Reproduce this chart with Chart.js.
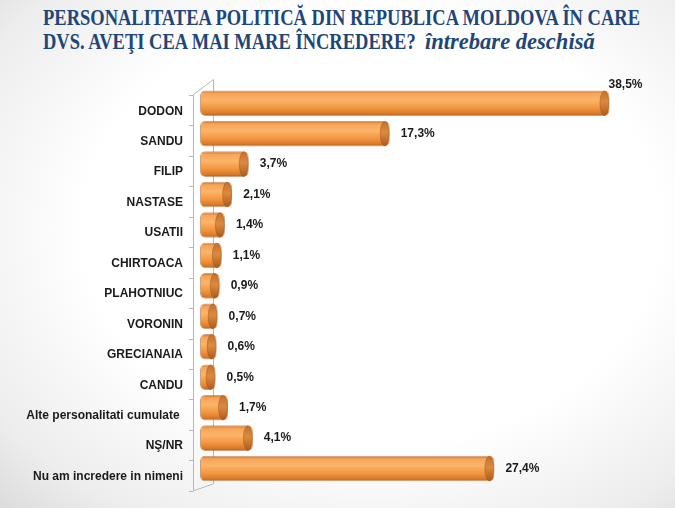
<!DOCTYPE html>
<html>
<head>
<meta charset="utf-8">
<title>Personalitatea politică</title>
<script src="https://cdn.jsdelivr.net/npm/chart.js"></script>
<style>
    html, body { margin: 0; padding: 0; }
    body { width: 675px; height: 508px; overflow: hidden; position: relative;
           background: radial-gradient(ellipse at 55% 45%, #ffffff 55%, #ededed 85%, #dcdcdc 100%); }
    #title { position: absolute; left: 43px; top: 6px; color: #1f4678;
             font-family: "Liberation Serif", "DejaVu Serif", serif;
             font-weight: bold; font-size: 23px; line-height: 24px; white-space: nowrap;
             transform-origin: 0 0; }
    #title i { font-weight: bold; display: inline-block; transform: scaleX(1.22); transform-origin: 0 0; }
    canvas { position: absolute; left: 0; top: 0; }
</style>
</head>
<body>
<div id="title"><span id="l1">PERSONALITATEA POLITICĂ DIN REPUBLICA MOLDOVA ÎN CARE</span><br>DVS. AVEŢI CEA MAI MARE ÎNCREDERE?&nbsp; <i>întrebare deschisă</i></div>
<canvas id="chart" width="675" height="508"></canvas>
<script>
// squeeze the title into a condensed look (no condensed font installed)
const l1 = document.getElementById('l1');
document.getElementById('title').style.transform = 'scaleX(' + (597 / l1.getBoundingClientRect().width) + ')';

// Data
const categories = ['DODON', 'SANDU', 'FILIP', 'NASTASE', 'USATII', 'CHIRTOACA', 'PLAHOTNIUC',
    'VORONIN', 'GRECIANAIA', 'CANDU', 'Alte personalitati cumulate ', 'NŞ/NR', 'Nu am incredere in nimeni'];
const values = [38.5, 17.3, 3.7, 2.1, 1.4, 1.1, 0.9, 0.7, 0.6, 0.5, 1.7, 4.1, 27.4];

const BAR_PCT = 0.84;
const fmt = v => v.toFixed(1).replace('.', ',') + '%';

function barGradient(ctx) {
    const chart = ctx.chart;
    const area = chart.chartArea;
    if (!area) return '#f39a45';
    const band = (area.bottom - area.top) / categories.length;
    const y = chart.scales.y.getPixelForValue(ctx.dataIndex);
    const h = band * BAR_PCT / 2;
    const g = chart.ctx.createLinearGradient(0, y - h, 0, y + h);
    g.addColorStop(0, '#c46c22');
    g.addColorStop(0.12, '#f7a457');
    g.addColorStop(0.38, '#fbb56a');
    g.addColorStop(0.7, '#f1953d');
    g.addColorStop(0.9, '#d9792a');
    g.addColorStop(1, '#ad5d1b');
    return g;
}

// thin grey 3D frame behind the bars, cylinder caps and value labels on top
const framePlugin = {
    id: 'frame',
    beforeDatasetsDraw(chart) {
        const { ctx, chartArea: a } = chart;
        const fx = a.left - 7, bx = a.left + 13;
        ctx.save();
        ctx.strokeStyle = '#b8b8b8';
        ctx.lineWidth = 1;
        ctx.beginPath();
        ctx.moveTo(fx + 0.5, a.top + 6.5); ctx.lineTo(fx + 0.5, a.bottom + 7);
        ctx.moveTo(fx + 0.5, a.top + 6.5); ctx.lineTo(bx + 0.5, a.top - 8.5);
        ctx.lineTo(bx + 0.5, a.bottom);
        ctx.moveTo(fx + 0.5, a.bottom + 7); ctx.lineTo(bx + 0.5, a.bottom);
        const band = (a.bottom - a.top) / categories.length;
        for (let i = 0; i <= categories.length; i++) {
            const y = Math.round(a.top + i * band + 7) + 0.5;
            ctx.moveTo(fx - 4, y); ctx.lineTo(fx + 0.5, y);
        }
        ctx.stroke();
        ctx.restore();
    },
    afterDatasetsDraw(chart) {
        const { ctx } = chart;
        const meta = chart.getDatasetMeta(0);
        ctx.save();
        meta.data.forEach(el => {
            const { x, y, height } = el.getProps(['x', 'y', 'height'], true);
            const rx = 4.5, ry = height / 2;
            const g = ctx.createLinearGradient(0, y - ry, 0, y + ry);
            g.addColorStop(0, '#c0712c');
            g.addColorStop(0.45, '#dc8a40');
            g.addColorStop(1, '#a9591c');
            ctx.beginPath();
            ctx.ellipse(x - rx - 0.5, y, rx, ry - 0.5, 0, 0, Math.PI * 2);
            ctx.fillStyle = g;
            ctx.fill();
            ctx.strokeStyle = 'rgba(150,75,15,0.5)';
            ctx.lineWidth = 0.8;
            ctx.stroke();
        });
        ctx.font = 'bold 12px "Liberation Sans", Arial, sans-serif';
        ctx.fillStyle = '#1a1a1a';
        ctx.textBaseline = 'middle';
        ctx.textAlign = 'left';
        meta.data.forEach((el, i) => {
            const { x, y, height } = el.getProps(['x', 'y', 'height'], true);
            const t = fmt(values[i]);
            const w = ctx.measureText(t).width;
            if (x + 11 + w > chart.chartArea.right + 20) {
                ctx.fillText(t, x - 1, y - height / 2 - 6);
            } else {
                ctx.fillText(t, x + 11, y);
            }
        });
        ctx.restore();
    }
};

new Chart(document.getElementById('chart'), {
    type: 'bar',
    data: {
        labels: categories,
        datasets: [{
            data: values,
            base: -1,
            backgroundColor: barGradient,
            borderColor: 'rgba(165,85,20,0.55)',
            borderWidth: 1,
            borderSkipped: false,
            borderRadius: 5,
            barPercentage: BAR_PCT,
            categoryPercentage: 1
        }]
    },
    options: {
        indexAxis: 'y',
        responsive: false,
        animation: false,
        layout: { padding: { top: 88, bottom: 15, right: 50, left: 0 } },
        plugins: { legend: { display: false }, tooltip: { enabled: false }, title: { display: false } },
        scales: {
            x: { display: false, min: -1, max: 40 },
            y: {
                afterFit(scale) { scale.width = 200; },
                grid: { display: false, drawTicks: false },
                border: { display: false },
                ticks: {
                    padding: 17,
                    labelOffset: 8,
                    color: '#1a1a1a',
                    font: { family: '"Liberation Sans", Arial, sans-serif', size: 12, weight: 'bold' }
                }
            }
        }
    },
    plugins: [framePlugin]
});
</script>
</body>
</html>
